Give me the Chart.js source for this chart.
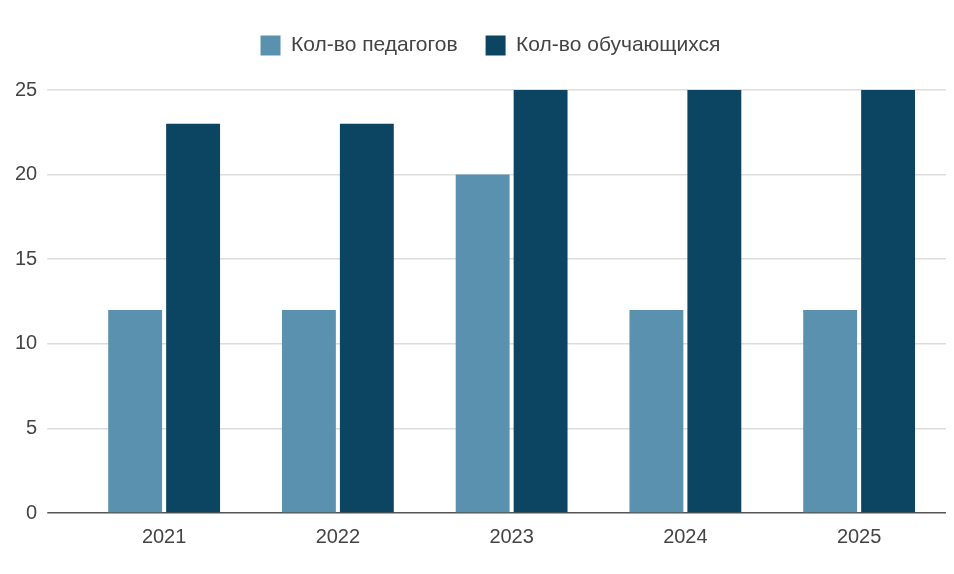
<!DOCTYPE html>
<html>
<head>
<meta charset="utf-8">
<script src="https://cdn.jsdelivr.net/npm/chart.js@4"></script>
<style>
  html, body { margin: 0; padding: 0; background: #fff; }
  #wrap { width: 954px; height: 574px; position: relative; }
</style>
</head>
<body>
<div id="wrap"><canvas id="chart"></canvas></div>
<script>
const years = ["2021", "2022", "2023", "2024", "2025"]
const teachers = [12, 12, 20, 12, 12]
const students = [23, 23, 25, 25, 25]
const yTicks = [0, 5, 10, 15, 20, 25]

const textColor = "#444"
const tickFont = { family: "'Liberation Sans', Arial, sans-serif", size: 20 }
const legendFont = { family: "'Liberation Sans', Arial, sans-serif", size: 21 }

// extra space under the legend and a small shift to the right, like the original
const legendSpacing = {
  id: "legendSpacing",
  beforeLayout(chart) {
    const legend = chart.legend
    if (!legend || legend._patched) return
    const fit = legend.fit
    legend.fit = function () {
      fit.call(this)
      this.height += 24
    }
    legend._patched = true
  },
  afterLayout(chart) {
    chart.legend.left += 15
    chart.legend.right += 15
  },
}

const chart = new Chart(document.getElementById("chart"), {
  type: "bar",
  data: {
    labels: years,
    datasets: [
      { label: "Кол-во педагогов", data: teachers, backgroundColor: "#5a91ae" },
      { label: "Кол-во обучающихся", data: students, backgroundColor: "#0b4562" },
    ],
  },
  options: {
    responsive: true,
    maintainAspectRatio: false,
    animation: false,
    layout: { padding: { top: 7, right: 8, bottom: 21, left: 5 } },
    datasets: { bar: { categoryPercentage: 0.667, barPercentage: 0.93 } },
    scales: {
      x: {
        grid: { display: false },
        border: { display: false },
        ticks: { color: textColor, font: tickFont, padding: 4 },
      },
      y: {
        min: 0,
        max: 25,
        afterBuildTicks: axis => { axis.ticks = yTicks.map(v => ({ value: v })) },
        grid: {
          color: ctx => ctx.tick && ctx.tick.value === 0 ? "#555" : "#ddd",
          tickLength: 30,
          lineWidth: 1.5,
        },
        border: { display: false },
        ticks: { color: textColor, font: tickFont, padding: 10 },
      },
    },
    plugins: {
      legend: {
        position: "top",
        labels: { color: textColor, font: legendFont, boxWidth: 20, boxHeight: 20, padding: 28 },
      },
      tooltip: { enabled: false },
    },
  },
  plugins: [legendSpacing],
})
</script>
</body>
</html>
